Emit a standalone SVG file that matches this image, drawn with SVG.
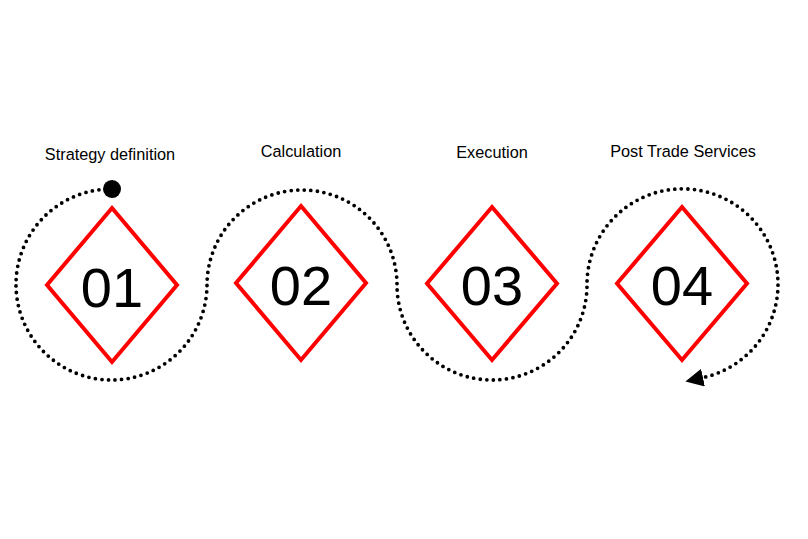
<svg xmlns="http://www.w3.org/2000/svg" width="808" height="539" viewBox="0 0 808 539">
  <style>
    .label { font-family: "Liberation Sans", Arial, sans-serif; font-size: 16.3px; fill: #000; text-anchor: middle; }
    .num { font-family: "Liberation Sans", Arial, sans-serif; font-size: 56px; fill: #000; text-anchor: middle; }
    .diamond { fill: #fff; stroke: #ff0000; stroke-width: 4; stroke-linejoin: miter; }
    .flow { fill: none; stroke: #000; stroke-width: 3.8; stroke-linecap: round; stroke-dasharray: 0 6.6; }
  </style>
  <defs>
    <marker id="arrow" markerUnits="userSpaceOnUse" markerWidth="18" markerHeight="18" viewBox="0 0 18 18" refX="0" refY="9" orient="auto">
      <path d="M0,0 L18,9 L0,18 z" fill="#000"/>
    </marker>
    <marker id="dot" markerUnits="userSpaceOnUse" markerWidth="20" markerHeight="20" viewBox="0 0 20 20" refX="10" refY="10" orient="auto">
      <circle cx="10" cy="10" r="9" fill="#000"/>
    </marker>
  </defs>
  <rect width="808" height="539" fill="#fff"/>

  <g id="connectors">
    <path class="flow" marker-start="url(#dot)" marker-end="url(#arrow)"
      d="M112,189 A95.5,95.5 0 1 0 207,285 A95,95 0 0 1 397,285 A95,95 0 0 0 587,285 A95.5,95.5 0 1 1 703,377.6"/>
  </g>

  <g id="node-01">
    <text class="label" x="110" y="160">Strategy definition</text>
    <polygon class="diamond" points="112,208 177,285 112,362 47,285"/>
    <text class="num" x="112" y="307">01</text>
  </g>
  <g id="node-02">
    <text class="label" x="301" y="157">Calculation</text>
    <polygon class="diamond" points="301,206 366,283 301,360 236,283"/>
    <text class="num" x="301" y="305">02</text>
  </g>
  <g id="node-03">
    <text class="label" x="492" y="158">Execution</text>
    <polygon class="diamond" points="492,207 557,283.5 492,360 427,283.5"/>
    <text class="num" x="492" y="305">03</text>
  </g>
  <g id="node-04">
    <text class="label" x="683" y="157">Post Trade Services</text>
    <polygon class="diamond" points="682,207 747,283.5 682,360 617,283.5"/>
    <text class="num" x="682" y="305">04</text>
  </g>
</svg>
